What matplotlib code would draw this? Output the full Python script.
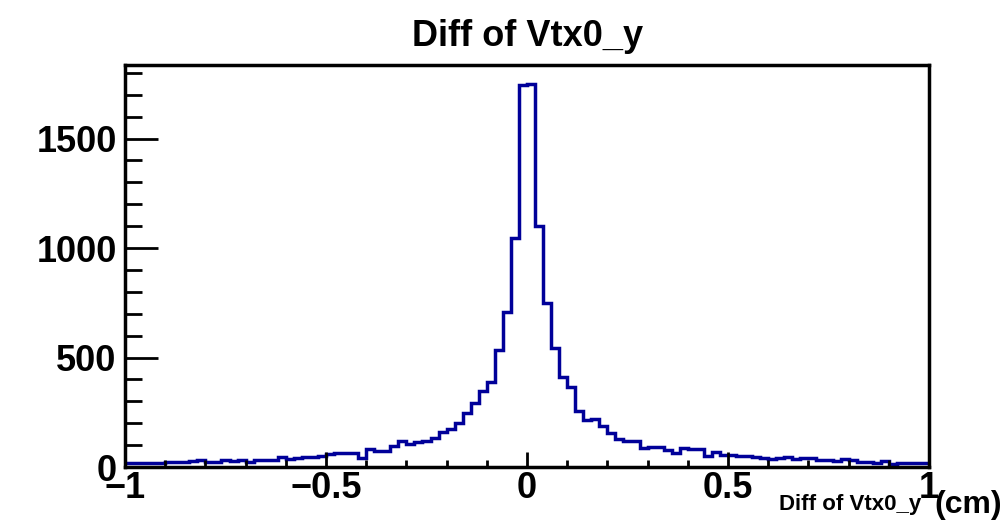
import matplotlib.pyplot as plt
import numpy as np
from matplotlib.ticker import MultipleLocator

# bin contents, 100 bins from -1 to 1 cm
counts_left = [20, 18, 18, 19, 20, 24, 21, 22, 26, 32, 25, 24, 30, 29, 30, 24, 32, 33, 34, 48, 36, 42, 45, 48, 50,
               58, 63, 65, 64, 43, 81, 74, 75, 96, 119, 104, 114, 119, 134, 158, 172, 202, 248, 294, 348, 387]
counts_core = [534, 709, 1044, 1744, 1750, 1100, 750, 545, 413]
counts_right = [364, 257, 215, 218, 189, 154, 128, 120, 120, 85, 93, 93, 78, 65, 85, 81, 81, 50, 70, 53,
                55, 50, 50, 45, 40, 38, 42, 44, 38, 40, 40, 33, 32, 28, 35, 32, 25, 24, 18, 26, 14, 19, 19, 19, 19]
counts = np.array(counts_left + counts_core + counts_right)
edges = np.linspace(-1, 1, len(counts) + 1)

x_ticks = [-1, -0.5, 0, 0.5, 1]
x_labels = ['\u22121', '\u22120.5', '0', '0.5', '1']

plt.rcParams['font.family'] = ['Liberation Sans', 'DejaVu Sans']
plt.rcParams['font.weight'] = 'bold'

fig = plt.figure(figsize=(10.04, 5.2), dpi=100)
ax = fig.add_axes([0.1245, 0.1019, 0.8008, 0.7731])

ax.stairs(counts, edges, color='#000099', linewidth=2.5, baseline=None)

ax.set_xlim(-1, 1)
ax.set_ylim(0, 1836)
ax.set_xticks(x_ticks)
ax.set_xticklabels(x_labels)
ax.xaxis.set_minor_locator(MultipleLocator(0.1))
ax.yaxis.set_major_locator(MultipleLocator(500))
ax.yaxis.set_minor_locator(MultipleLocator(100))

ax.tick_params(axis='x', which='major', direction='in', length=11, width=2, labelsize=26, pad=3)
ax.tick_params(axis='x', which='minor', direction='in', length=5, width=2)
ax.tick_params(axis='y', which='major', direction='in', length=24, width=2, labelsize=26, pad=6)
ax.tick_params(axis='y', which='minor', direction='in', length=12, width=2)
for lab in ax.get_xticklabels() + ax.get_yticklabels():
    lab.set_fontweight('bold')

for s in ax.spines.values():
    s.set_linewidth(2.5)

fig.text(0.5255, 0.93, 'Diff of Vtx0_y', ha='center', va='center', fontsize=26, fontweight='bold')
fig.text(0.9175, 0.01, 'Diff of Vtx0_y', ha='right', va='bottom', fontsize=16, fontweight='bold')
fig.text(0.9985, 0.0, '(cm)', ha='right', va='bottom', fontsize=23, fontweight='bold')

fig.savefig('out.png', dpi=100)
